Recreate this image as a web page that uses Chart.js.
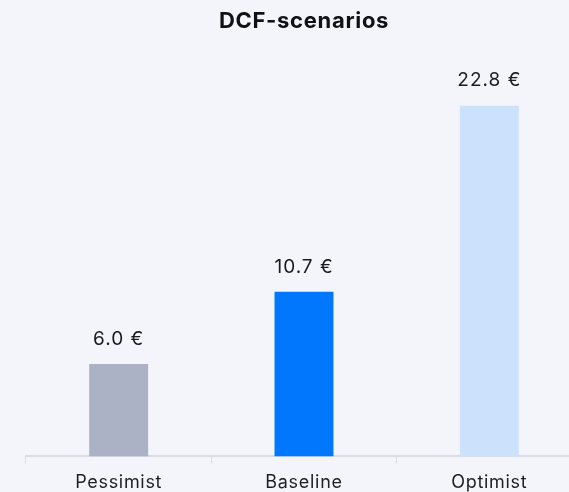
<!DOCTYPE html>
<html>
<head>
<meta charset="utf-8">
<script src="https://cdn.jsdelivr.net/npm/chart.js@4.4.0/dist/chart.umd.min.js"></script>
<style>
  html, body { margin: 0; padding: 0; background: #f4f5fa; overflow: hidden; }
  #dcf_chart { display: block; }
</style>
</head>
<body>
<canvas id="dcf_chart" width="608" height="501"></canvas>
<script>
const scenarios = ['Pessimist', 'Baseline', 'Optimist'];
const values = [6.0, 10.7, 22.8];
const barColors = ['#abb2c6', '#0077fc', '#cce1fc'];
const currency = '€';

const fontFamily = 'Inter, sans-serif';

// slightly wider text everywhere on the canvas
const spacing = {
  id: 'spacing',
  beforeDraw(chart) {
    chart.ctx.letterSpacing = '0.7px';
  }
};

// writes "x.x €" above each bar
const valueLabels = {
  id: 'valueLabels',
  afterDatasetsDraw(chart) {
    const ctx = chart.ctx;
    const meta = chart.getDatasetMeta(0);
    ctx.save();
    ctx.letterSpacing = '1px';
    ctx.font = '19px ' + fontFamily;
    ctx.fillStyle = '#1b1b1f';
    ctx.textAlign = 'center';
    ctx.textBaseline = 'middle';
    meta.data.forEach((bar, i) => {
      const v = chart.data.datasets[0].data[i];
      ctx.fillText(v.toFixed(1) + ' ' + currency, bar.x, bar.y - 25);
    });
    ctx.restore();
  }
};

const config = {
  type: 'bar',
  data: {
    labels: scenarios,
    datasets: [
      {
        label: 'DCF',
        data: values,
        backgroundColor: barColors,
        barPercentage: 0.318,
        categoryPercentage: 1
      }
    ]
  },
  options: {
    responsive: false,
    animation: false,
    devicePixelRatio: 1,
    layout: {
      padding: { left: 26, right: 26, top: 0, bottom: 0 }
    },
    plugins: {
      legend: { display: false },
      tooltip: { enabled: false },
      title: {
        display: true,
        text: 'DCF-scenarios',
        color: '#111114',
        font: { family: fontFamily, size: 22, weight: 'bold' },
        padding: { top: 8, bottom: 22 }
      }
    },
    scales: {
      x: {
        grid: {
          display: true,
          offset: true,
          drawOnChartArea: false,
          drawTicks: true,
          tickLength: 7,
          color: '#d9dce5'
        },
        border: { display: true, color: '#d9dce5', width: 2 },
        ticks: {
          color: '#1f1f23',
          padding: 8,
          font: { family: fontFamily, size: 18 }
        }
      },
      y: {
        display: false,
        min: 0,
        max: 26
      }
    }
  },
  plugins: [spacing, valueLabels]
};

document.addEventListener('DOMContentLoaded', () => {
  const dcf = document.getElementById('dcf_chart');
  new Chart(dcf.getContext('2d'), config);
});
</script>
</body>
</html>
